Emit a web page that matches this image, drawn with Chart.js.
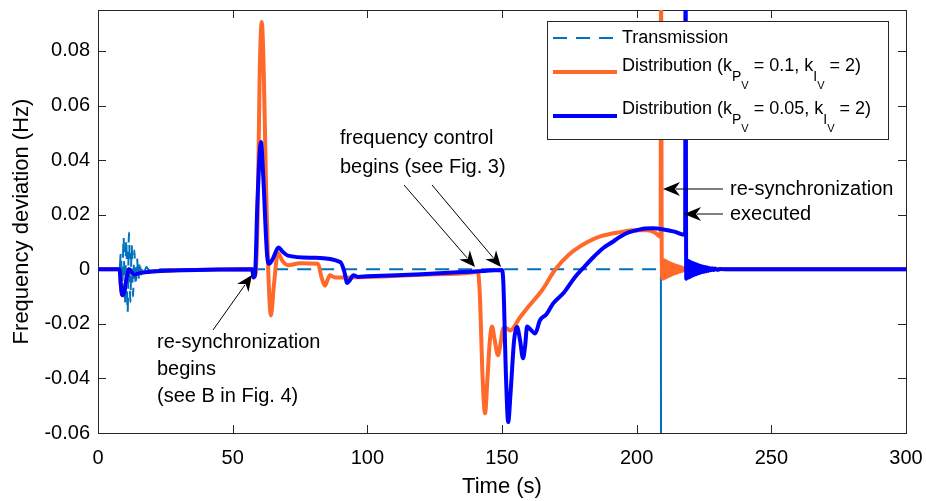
<!DOCTYPE html>
<html>
<head>
<meta charset="utf-8">
<script src="https://cdn.jsdelivr.net/npm/chart.js@4.4.1/dist/chart.umd.min.js"></script>
<style>
body{margin:0;background:#fff}
canvas{display:block}
</style>
</head>
<body>
<canvas id="freqChart" width="926" height="501"></canvas>
<script>
// axis ticks
const xTicks=[0,50,100,150,200,250,300]
const yTicks=[-0.06,-0.04,-0.02,0,0.02,0.04,0.06,0.08]

// transmission side, frequency deviation (Hz) against time (s)
const transTime=[0,8,8.5,9,9.5,10,10.5,11,11.5,12,12.5,13,13.5,14,14.5,15,15.5,16,16.5,17,18,19,20,209,209.05]
const transDev=[0,0,0.006,-0.009,0.012,-0.013,0.011,-0.016,0.0135,-0.012,0.009,-0.01,0.007,-0.006,0.004,-0.004,0.003,-0.002,0.0015,-0.0012,0.0008,-0.0004,0,0,-0.08]

// distribution, kPV = 0.1
const orangeTime=[0,8,8.5,9,9.6,10.5,11.5,12.5,13.5,15,20,30,45,57.3,57.7,58.4,59.3,60,60.8,61.6,62.4,63.2,64.2,65.3,66.8,68.5,70.6,75,81.7,83,84.3,85.2,86.1,88,100,120,139,141,141.8,142.8,143.7,144.6,145.5,146.3,147.3,148.5,149.5,150.4,151.5,153,156.7,160,165,169.7,175,181.6,187,193.8,199,203.9,207,208.9,209.05,209.3,
  209.6,209.9,210.2,210.5,210.8,211.1,211.4,211.7,212,212.3,212.6,212.9,213.2,213.5,213.8,214.1,214.4,214.7,215,215.3,215.6,215.9,216.2,216.5,217,217.5,218,219,220,221,223,300]
const orangeDev=[0,0,-0.006,-0.0095,-0.009,-0.004,0,-0.001,-0.002,-0.0015,-0.0008,-0.0004,-0.0001,0,-0.003,-0.002,0.02,0.07,0.0906,0.07,0.03,0,-0.0169,-0.006,0.006,0.003,0.0015,0.0022,0.002,-0.003,-0.006,-0.004,-0.0022,-0.003,-0.0028,-0.002,-0.0012,-0.0008,-0.01,-0.04,-0.0528,-0.04,-0.026,-0.021,-0.026,-0.0315,-0.027,-0.0216,-0.0215,-0.0224,-0.0176,-0.0135,-0.0075,-0.0002,0.0055,0.0099,0.0122,0.0136,0.0143,0.0143,0.0133,0.0118,0.12,0.0044,
  -0.0035,0.0034,-0.0032,0.0031,-0.003,0.0028,-0.0027,0.0025,-0.0024,0.0022,-0.0021,0.0019,-0.0018,0.0017,-0.0016,0.0015,-0.0014,0.0013,-0.0012,0.0011,-0.001,0.0009,-0.0008,0.0007,-0.0006,0.0005,-0.0004,0.0003,-0.0002,0.0001,0,0]

// distribution, kPV = 0.05
const blueTime=[0,8,8.5,9,9.6,10.5,11.5,12.5,13.5,15,20,30,45,57.3,57.7,58.3,59.2,60.5,61.3,62.8,63.6,65,67,68.5,70.5,80,90,91.5,92.5,93.5,94.8,96.5,100,120,140,150,150.5,151.5,152.3,153.2,154.5,155.6,156.7,157.8,158.6,159.3,160.5,162.3,164.1,166.5,169,173,177,180,184,187.5,191,194,197,200,203,206,210,214,218,218.15,218.4,
  218.7,219,219.3,219.6,219.9,220.2,220.5,220.8,221.1,221.4,221.7,222,222.3,222.6,222.9,223.2,223.5,223.8,224.1,224.4,224.7,225,225.4,225.8,226.2,226.6,227,227.5,228,228.5,229,230,231,233,300]
const blueDev=[0,0,-0.006,-0.0095,-0.009,-0.004,0,-0.001,-0.002,-0.0015,-0.0008,-0.0004,-0.0001,0,-0.003,-0.002,0.025,0.0466,0.035,0.005,0.002,0.004,0.008,0.0065,0.005,0.0042,0.0026,-0.001,-0.005,-0.004,-0.0022,-0.0028,-0.0026,-0.0018,-0.0008,-0.0003,-0.005,-0.04,-0.056,-0.045,-0.026,-0.0212,-0.026,-0.0326,-0.028,-0.021,-0.022,-0.0235,-0.0187,-0.0165,-0.0125,-0.0085,-0.003,0.0003,0.0045,0.0077,0.01,0.012,0.0135,0.0143,0.0149,0.015,0.0146,0.0138,0.0126,0.12,-0.0035,
  0.0032,-0.0031,0.003,-0.0029,0.0027,-0.0026,0.0024,-0.0023,0.0022,-0.002,0.0019,-0.0018,0.0017,-0.0016,0.0015,-0.0014,0.0013,-0.0012,0.0011,-0.001,0.0009,-0.0009,0.0008,-0.0007,0.0006,-0.0006,0.0005,-0.0004,0.0004,-0.0003,0.0003,-0.0002,0.0001,0,0]

const FONT="'Liberation Sans', Arial, Helvetica, sans-serif"
const TRANS_COLOR='#0072bd'
const ORANGE='#ff6a2b'
const BLUE='#0000ff'

function pts(ts,vs){
  return ts.map((t,i)=>({x:t,y:vs[i]}))
}

// box around the plot with inward ticks on all four sides
const frame={
  id:'frame',
  beforeDatasetsDraw(chart){
    const {ctx,chartArea:a,scales:{x,y}}=chart
    ctx.save()
    ctx.strokeStyle='#262626'
    ctx.lineWidth=1
    ctx.beginPath()
    for(let v of xTicks){
      const px=Math.round(x.getPixelForValue(v))+0.5
      ctx.moveTo(px,a.bottom); ctx.lineTo(px,a.bottom-8)
      ctx.moveTo(px,a.top); ctx.lineTo(px,a.top+8)
    }
    for(let v of yTicks){
      const py=Math.round(y.getPixelForValue(v))+0.5
      ctx.moveTo(a.left,py); ctx.lineTo(a.left+8,py)
      ctx.moveTo(a.right,py); ctx.lineTo(a.right-8,py)
    }
    ctx.stroke()
    ctx.strokeRect(Math.round(a.left)+0.5,Math.round(a.top)+0.5,Math.round(a.width),Math.round(a.height))
    ctx.restore()
  }
}

function arrow(ctx,x0,y0,x1,y1,L,W){
  const ang=Math.atan2(y1-y0,x1-x0)
  ctx.beginPath()
  ctx.moveTo(x0,y0)
  ctx.lineTo(x1-Math.cos(ang)*(L-4),y1-Math.sin(ang)*(L-4))
  ctx.stroke()
  ctx.save()
  ctx.translate(x1,y1)
  ctx.rotate(ang)
  ctx.beginPath()
  ctx.moveTo(0,0)
  ctx.lineTo(-L,-W)
  ctx.lineTo(-L+5,0)
  ctx.lineTo(-L,W)
  ctx.closePath()
  ctx.fill()
  ctx.restore()
}

// text with sub / sub-sub scripts: parts = [text, size, dy]
function richText(ctx,x,y,parts){
  for(let [txt,size,dy] of parts){
    ctx.font=size+'px '+FONT
    ctx.fillText(txt,x,y+dy)
    x+=ctx.measureText(txt).width
  }
}

const notes={
  id:'notes',
  afterDatasetsDraw(chart){
    const ctx=chart.ctx
    ctx.save()
    ctx.fillStyle='#000'
    ctx.strokeStyle='#000'
    ctx.lineWidth=1
    ctx.textBaseline='middle'
    ctx.font='20px '+FONT

    ctx.fillText('re-synchronization',157,342)
    ctx.fillText('begins',157,369)
    ctx.fillText('(see B in Fig. 4)',157,396)
    arrow(ctx,213,330,252,275,16,7)

    ctx.font='20px '+FONT
    ctx.fillText('frequency control',340,138)
    ctx.fillText('begins (see Fig. 3)',340,167)
    arrow(ctx,404,185,475,267,16,7)
    arrow(ctx,432,185,501,267,16,7)

    ctx.font='20px '+FONT
    ctx.fillText('re-synchronization',730,189)
    ctx.fillText('executed',730,214)
    arrow(ctx,723,189,663,189,17,7)
    arrow(ctx,723,214,684,214,17,7)

    // legend
    ctx.fillStyle='#fff'
    ctx.fillRect(547,21,341,118)
    ctx.strokeStyle='#262626'
    ctx.strokeRect(547.5,21.5,341,118)

    ctx.lineWidth=2
    ctx.strokeStyle=TRANS_COLOR
    ctx.setLineDash([14,9])
    ctx.beginPath(); ctx.moveTo(553,38); ctx.lineTo(617,38); ctx.stroke()
    ctx.setLineDash([])
    ctx.lineWidth=4
    ctx.strokeStyle=ORANGE
    ctx.beginPath(); ctx.moveTo(553,72); ctx.lineTo(617,72); ctx.stroke()
    ctx.strokeStyle=BLUE
    ctx.beginPath(); ctx.moveTo(553,116); ctx.lineTo(617,116); ctx.stroke()

    ctx.fillStyle='#000'
    ctx.font='18px '+FONT
    ctx.fillText('Transmission',622,38)
    richText(ctx,622,66,[['Distribution (k',18,0],['P',14,11],['V',11,20],[' = 0.1, k',18,0],['I',14,11],['V',11,20],[' = 2)',18,0]])
    richText(ctx,622,109,[['Distribution (k',18,0],['P',14,11],['V',11,20],[' = 0.05, k',18,0],['I',14,11],['V',11,20],[' = 2)',18,0]])
    ctx.restore()
  }
}

const common={pointRadius:0,fill:false,clip:0,cubicInterpolationMode:'monotone',borderJoinStyle:'round'}

new Chart(document.getElementById('freqChart'),{
  type:'line',
  data:{
    datasets:[
      {...common,label:'Distribution (kPV = 0.05, kIV = 2)',data:pts(blueTime,blueDev),borderColor:BLUE,borderWidth:4,borderCapStyle:'round',order:1},
      {...common,label:'Distribution (kPV = 0.1, kIV = 2)',data:pts(orangeTime,orangeDev),borderColor:ORANGE,borderWidth:4,borderCapStyle:'round',order:2},
      {...common,label:'Transmission',data:pts(transTime,transDev),borderColor:TRANS_COLOR,borderWidth:2,borderDash:[14,9],order:3,
        segment:{borderDash:c=>c.p0.parsed.x>=209?[]:undefined}}
    ]
  },
  options:{
    responsive:false,
    animation:false,
    events:[],
    layout:{padding:{left:0,top:10,right:20,bottom:0}},
    plugins:{legend:{display:false},tooltip:{enabled:false}},
    scales:{
      x:{
        type:'linear',min:0,max:300,
        afterBuildTicks:s=>{s.ticks=xTicks.map(v=>({value:v}))},
        afterFit:s=>{s.height=68;s.paddingLeft=0;s.paddingRight=0},
        grid:{display:false,drawTicks:false},
        border:{display:false},
        ticks:{font:{family:FONT,size:20},color:'#000',padding:13,maxRotation:0,autoSkip:false,callback:v=>String(v)},
        title:{display:true,text:'Time (s)',font:{family:FONT,size:22},color:'#000',padding:{top:0,bottom:1}}
      },
      y:{
        type:'linear',min:-0.06,max:0.095,
        afterBuildTicks:s=>{s.ticks=yTicks.map(v=>({value:v}))},
        afterFit:s=>{s.width=98;s.paddingTop=0;s.paddingBottom=0},
        grid:{display:false,drawTicks:false},
        border:{display:false},
        ticks:{font:{family:FONT,size:20},color:'#000',padding:8,autoSkip:false,callback:v=>String(v)},
        title:{display:true,text:'Frequency deviation (Hz)',font:{family:FONT,size:22},color:'#000',padding:{top:9,bottom:0}}
      }
    }
  },
  plugins:[frame,notes]
})
</script>
</body>
</html>
